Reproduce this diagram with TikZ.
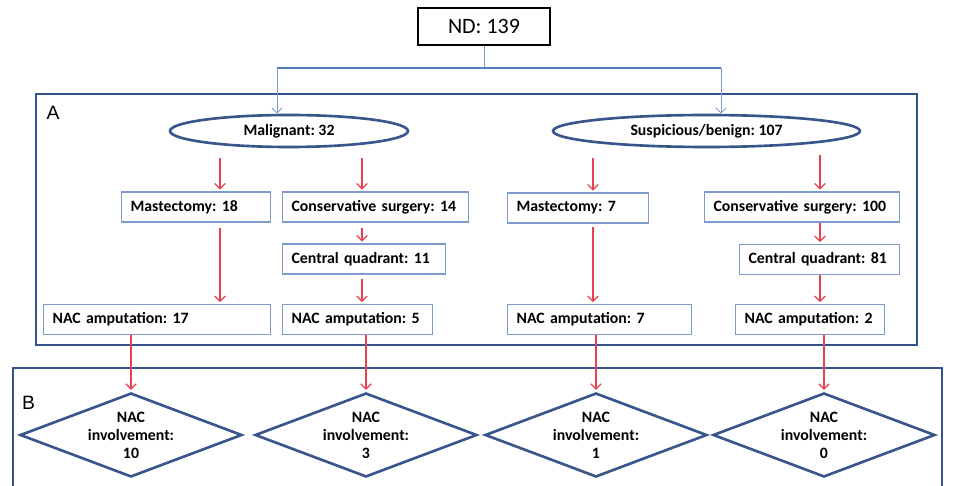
\documentclass[tikz,border=0pt]{standalone}
\usepackage{fontspec}
\setmainfont{Carlito}
\newfontfamily\letterfont{Liberation Sans}
\usetikzlibrary{shapes.geometric, arrows.meta, positioning}
\definecolor{frameblue}{RGB}{52,82,140}
\definecolor{boxblue}{RGB}{125,155,205}
\definecolor{shapeblue}{RGB}{56,86,140}
\definecolor{linkred}{RGB}{232,64,76}
\definecolor{treeblue}{RGB}{80,125,190}
\frenchspacing

\begin{document}
\begin{tikzpicture}[x=0.02cm,y=-0.02cm,
  box/.style={draw=boxblue, line width=0.7pt, anchor=west, text width=#1, align=left,
    inner xsep=0.18cm, minimum height=0.6cm, font=\bfseries\fontsize{9}{10}\selectfont},
  group/.style={draw=shapeblue, line width=1.5pt, ellipse, minimum height=0.64cm,
    inner sep=0pt, font=\bfseries\fontsize{9}{10}\selectfont},
  check/.style={draw=shapeblue, line width=1.5pt, diamond, aspect=2.64, inner sep=0pt,
    minimum width=4.44cm, minimum height=1.68cm, align=center,
    font=\bfseries\fontsize{9}{10.2}\selectfont},
  link/.style={-{Straight Barb[length=3pt,width=6pt]}, draw=linkred, line width=0.7pt},
  split/.style={-{Straight Barb[length=3pt,width=6pt]}, draw=treeblue!75, line width=0.5pt}]
  \useasboundingbox (0,0) rectangle (961,486);

  \node[draw, line width=1.5pt, minimum width=2.64cm, minimum height=0.74cm,
    font=\fontsize{12.5}{14}\selectfont] (nd) at (484,26.5) {ND: 139};

  \draw[frameblue, line width=1.1pt] (36,94) rectangle (917,345);
  \node[font=\letterfont\fontsize{11}{13}\selectfont, inner sep=0pt] (a) at (53,112.5) {A};
  \draw[frameblue, line width=1.1pt] (13,486) -- (13,368) -- (942,368) -- (942,486);
  \node[font=\letterfont\fontsize{11}{13}\selectfont, inner sep=0pt] (b) at (28.5,402.5) {B};

  \node[group, minimum width=4.76cm] (mal) at (289,131)   {Malignant: 32};
  \node[group, minimum width=6.14cm] (sus) at (706.5,131) {Suspicious/benign: 107};

  \node[box=2.62cm] (mas1)  at (121,207)   {Mastectomy: 18};
  \node[box=3.36cm] (cons1) at (282,207)   {Conservative surgery: 14};
  \node[box=2.90cm] (cq1)   at (282,259)   {Central quadrant: 11};
  \node[box=4.18cm] (nac1)  at (43,319.5)  {NAC amputation: 17};
  \node[box=2.64cm] (nac2)  at (282,319.5) {NAC amputation: 5};
  \node[box=2.46cm] (mas2)  at (507,208)   {Mastectomy: 7};
  \node[box=3.54cm] (cons2) at (704,207)   {Conservative surgery: 100};
  \node[box=2.84cm] (cq2)   at (739,259.5) {Central quadrant: 81};
  \node[box=3.32cm] (nac3)  at (507,319.5) {NAC amputation: 7};
  \node[box=2.62cm] (nac4)  at (735,319.5) {NAC amputation: 2};

  \node[check] (dia1) at (131,435) {NAC\\involvement:\\10};
  \node[check] (dia2) at (366,435) {NAC\\involvement:\\3};
  \node[check] (dia3) at (596,435) {NAC\\involvement:\\1};
  \node[check] (dia4) at (824,435) {NAC\\involvement:\\0};

  \coordinate (fork)  at (484,68);
  \coordinate (forkl) at (277,68);
  \coordinate (forkr) at (721,68);
  \coordinate (col1) at (220,0);
  \coordinate (col2) at (362,0);
  \coordinate (col3) at (593,0);
  \coordinate (col4) at (820,0);

  \draw[treeblue!75, line width=0.5pt] (nd) -- (fork);
  \draw[treeblue, line width=1.3pt] (forkl) -- (forkr);
  \path (forkl) edge[split] (mal.north -| forkl)
        (forkr) edge[split] (sus.north -| forkr);

  \tikzset{every edge/.append style={shorten >=1pt}}
  \path (mal.south -| col1)  edge[link, shorten <=0.2cm]  (mas1.north -| col1)
        (mal.south -| col2)  edge[link, shorten <=0.2cm]  (cons1.north -| col2)
        (sus.south -| col3)  edge[link, shorten <=0.2cm]  (mas2.north -| col3)
        (sus.south -| col4)  edge[link, shorten <=0.14cm] (cons2.north -| col4)
        (mas1.south -| col1) edge[link, shorten <=0.1cm]  (nac1.north -| col1)
        (cons1.south -| col2) edge[link, shorten <=0.1cm] (cq1.north -| col2)
        (cq1.south -| col2)  edge[link, shorten <=0.08cm] (nac2.north -| col2)
        (mas2.south -| col3) edge[link, shorten <=0.06cm] (nac3.north -| col3)
        (cons2.south -| col4) edge[link]                  (cq2.north -| col4)
        (cq2.south -| col4)  edge[link]                   (nac4.north -| col4);

  \path (nac1.south -| dia1.north) edge[link] (dia1.north)
        (nac2.south -| dia2.north) edge[link] (dia2.north)
        (nac3.south -| dia3.north) edge[link] (dia3.north)
        (nac4.south -| dia4.north) edge[link] (dia4.north);
\end{tikzpicture}
\end{document}
